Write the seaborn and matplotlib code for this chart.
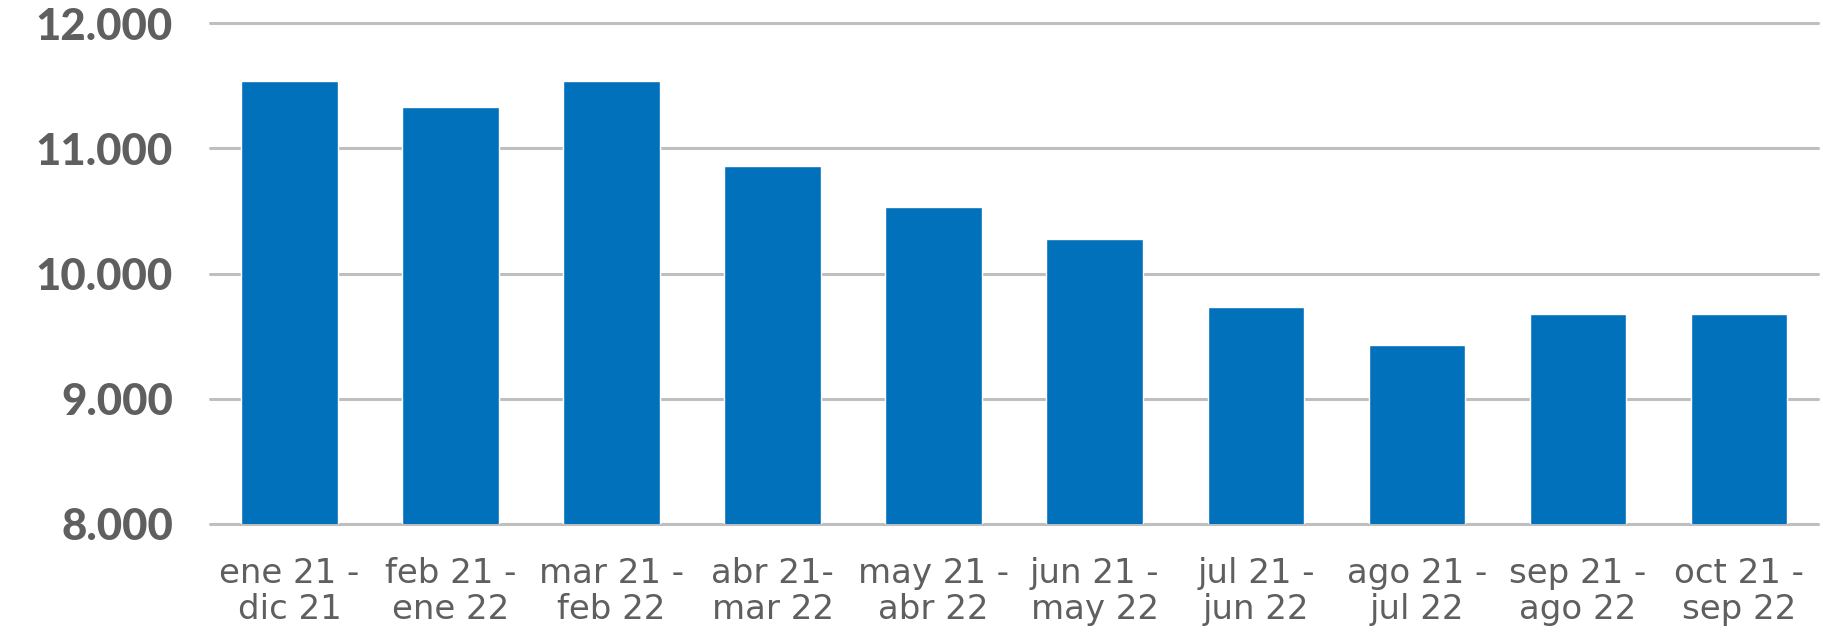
import matplotlib
matplotlib.use("Agg")
import matplotlib.pyplot as plt
import seaborn as sns
import pandas as pd
from matplotlib.ticker import FuncFormatter

categories = ["ene 21 -\ndic 21", "feb 21 -\nene 22", "mar 21 -\nfeb 22", "abr 21-\nmar 22",
              "may 21 -\nabr 22", "jun 21 -\nmay 22", "jul 21 -\njun 22", "ago 21 -\njul 22",
              "sep 21 -\nago 22", "oct 21 -\nsep 22"]
values = [11540, 11330, 11540, 10860, 10530, 10280, 9730, 9430, 9680, 9680]
y_ticks = [8000, 9000, 10000, 11000, 12000]

sns.set_theme(style="white")
plt.rcParams['font.family'] = ['DejaVu Sans']

df = pd.DataFrame({"periodo": categories, "valor": values})

fig = plt.figure(figsize=(18.24, 6.33), dpi=100)
ax = fig.add_axes([0.1154, 0.1728, 0.8813, 0.7902])

sns.barplot(data=df, x="periodo", y="valor", color="#0271BB", saturation=1,
            width=0.6, ax=ax, zorder=2)

ax.set_ylim(8000, 12000)
ax.set_xlim(-0.49, 9.49)
ax.set_yticks(y_ticks)
ax.yaxis.set_major_formatter(FuncFormatter(lambda v, p: f"{int(v):,}".replace(",", ".")))
ax.yaxis.grid(True, color="#BFBFBF", linewidth=2.2, zorder=0)
ax.xaxis.grid(False)
ax.set_axisbelow(True)
for gl in ax.get_ygridlines():
    gl.set_clip_on(False)

for s in ax.spines.values():
    s.set_visible(False)

ax.set_xlabel("")
ax.set_ylabel("")
ax.tick_params(axis="y", length=0, pad=27, labelsize=31.5, labelcolor="#5F5F5F")
ax.tick_params(axis="x", length=0, pad=24, labelsize=24.5, labelcolor="#5F5F5F")
for t in ax.get_yticklabels():
    t.set_fontfamily(["Lato", "DejaVu Sans"])
    t.set_fontweight("black")
for t in ax.get_xticklabels():
    t.set_linespacing(1.12)

fig.savefig("out.png", dpi=100, facecolor="white")
